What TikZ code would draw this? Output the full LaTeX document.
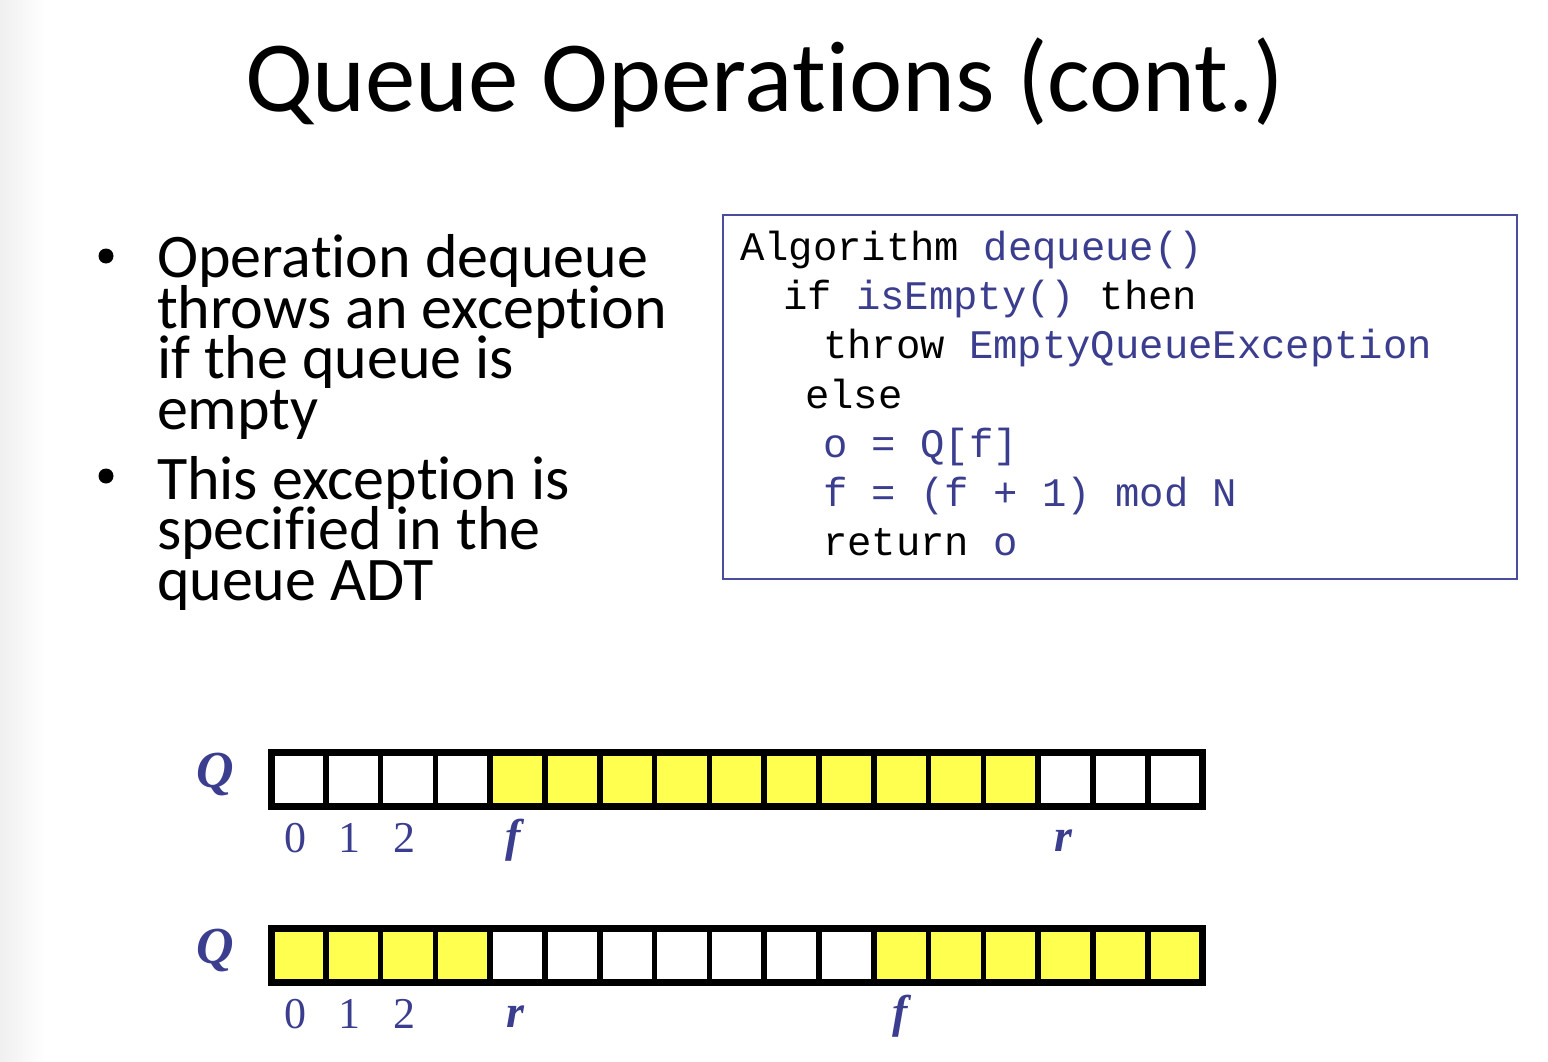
\documentclass[tikz,border=0pt]{standalone}
\usepackage{fontspec}
\setmainfont{Carlito}[Ligatures=NoCommon]
\newfontfamily\codefont{Liberation Mono}
\newfontfamily\seriffont{Liberation Serif}
\definecolor{codeblue}{HTML}{3B3D8E}
\definecolor{framblue}{HTML}{4A4C9C}
\definecolor{cellyellow}{HTML}{FFFF50}
% bullet paragraphs: large type on a fixed, tight line pitch
\newcommand\bulletfont{\fontsize{62}{50.5}\selectfont\lineskiplimit=-100pt\lineskip=0pt}
\begin{document}
\begin{tikzpicture}[x=1pt,y=-1pt,
  every node/.style={inner sep=0pt,outer sep=0pt},
  titletext/.style={anchor=base west,font=\fontsize{100.8}{100.8}\selectfont},
  bullettext/.style={anchor=base west,align=left,font=\bulletfont},
  bulletdot/.style={circle,fill=black,minimum size=15pt},
  codeline/.style={anchor=base west,font=\codefont\fontsize{40.6}{40.6}\selectfont},
  kw/.style={text=codeblue},
  cell/.style={draw=black,line width=5.6pt,minimum width=54.8pt,minimum height=54pt,fill=white},
  full/.style={fill=cellyellow},
  arrname/.style={anchor=base,text=codeblue,font=\seriffont\bfseries\itshape\fontsize{52}{52}\selectfont},
  idx/.style={anchor=base,text=codeblue,font=\seriffont\fontsize{44}{44}\selectfont},
  ptr/.style={anchor=base,text=codeblue,font=\seriffont\bfseries\itshape\fontsize{46}{46}\selectfont}
]
\useasboundingbox (0,0) rectangle (1548,1062);
\shade[left color=black!6,right color=white] (0,0) rectangle (45,1062);

% title
\node[titletext] (title) at (245,112) {Queue Operations (cont.)};

% bullets (anchored at the baseline of their last line)
\node[bulletdot] (b1) at (106,256) {};
\node[bullettext] (t1) at (157,429) {Operation dequeue\\throws an exception\\if the queue is\\empty};
\node[bulletdot] (b2) at (106,476) {};
\node[bullettext] (t2) at (157,600) {This exception is\\specified in the\\queue ADT};

% pseudo-code box
\draw[framblue,line width=1.6pt] (723,215) rectangle (1517,579);
\node[codeline] (c1) at (740,260) {Algorithm \textcolor{codeblue}{dequeue()}};
\node[codeline] (c2) at (783,309) {if \textcolor{codeblue}{isEmpty()} then};
\node[codeline] (c3) at (823,358) {throw \textcolor{codeblue}{EmptyQueueException}};
\node[codeline] (c4) at (805,408) {else};
\node[codeline,kw] (c5) at (823,457) {o = Q[f]};
\node[codeline,kw] (c6) at (823,506) {f = (f + 1) mod N};
\node[codeline] (c7) at (823,555) {return \textcolor{codeblue}{o}};

% first array: f at 4, r at 14
\foreach \i in {0,...,16}{
  \pgfmathtruncatemacro{\used}{(\i>=4)&&(\i<14)}
  \ifnum\used=1
    \node[cell,full] (a\i) at ({271+54.8*(\i+0.5)},779) {};
  \else
    \node[cell] (a\i) at ({271+54.8*(\i+0.5)},779) {};
  \fi
}
\draw[line width=7pt] (a0.north west) rectangle (a16.south east);
\node[arrname] (qa) at (215,787) {Q};
\node[idx] (a0i) at (295,852) {0};
\node[idx] (a1i) at (349,852) {1};
\node[idx] (a2i) at (404,852) {2};
\node[ptr] (af) at (513,851) {f};
\node[ptr] (ar) at (1063,851) {r};

% second array: r at 4, f at 11 (wrapped around)
\foreach \i in {0,...,16}{
  \pgfmathtruncatemacro{\used}{(\i<4)||(\i>=11)}
  \ifnum\used=1
    \node[cell,full] (b\i) at ({271+54.8*(\i+0.5)},955) {};
  \else
    \node[cell] (b\i) at ({271+54.8*(\i+0.5)},955) {};
  \fi
}
\draw[line width=7pt] (b0.north west) rectangle (b16.south east);
\node[arrname] (qb) at (215,963) {Q};
\node[idx] (b0i) at (295,1028) {0};
\node[idx] (b1i) at (349,1028) {1};
\node[idx] (b2i) at (404,1028) {2};
\node[ptr] (br) at (515,1027) {r};
\node[ptr] (bf) at (900,1027) {f};
\end{tikzpicture}
\end{document}
